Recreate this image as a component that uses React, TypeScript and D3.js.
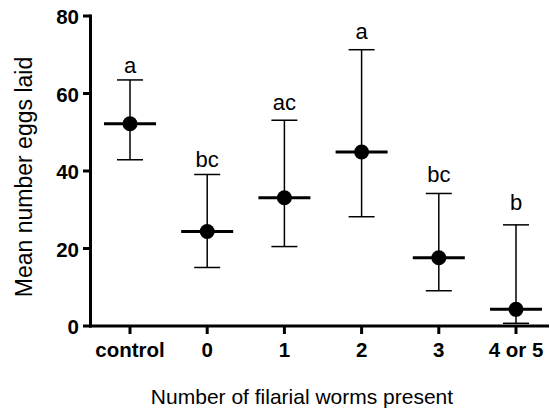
import React from "react";
import * as d3 from "d3";

const categories = ["control", "0", "1", "2", "3", "4 or 5"];
const means = [52.2, 24.4, 33.1, 44.9, 17.6, 4.3];
const upper = [63.5, 39.1, 53.1, 71.3, 34.2, 26.1];
const lower = [42.9, 15.1, 20.5, 28.2, 9.1, 0.7];
const letters = ["a", "bc", "ac", "a", "bc", "b"];
const letterPos = [65.3, 41.0, 55.7, 74.1, 37.2, 29.9];
const yTicks = [0, 20, 40, 60, 80];

const W = 550;
const H = 409;
const FONT = "'Liberation Sans', Arial, Helvetica, sans-serif";

export default function App() {
  const y = d3.scaleLinear().domain([0, 80]).range([326, 16]);
  const x = d3.scalePoint<string>().domain(categories).range([130, 516]);
  const axisX = 90.5;
  const axisY = 326;

  return (
    <svg
      width={W}
      height={H}
      style={{ position: "absolute", left: 0, top: 0, display: "block", background: "#fff" }}
      fontFamily={FONT}
    >
      {/* y axis */}
      <line x1={axisX} x2={axisX} y1={y(80) - 1.5} y2={axisY + 1.5} stroke="#000" strokeWidth={3} />
      {yTicks.map((t) => (
        <g key={t}>
          <line x1={83} x2={axisX} y1={y(t)} y2={y(t)} stroke="#000" strokeWidth={3} />
          <text x={79} y={y(t) + 8} textAnchor="end" fontSize={20.5} fontWeight="bold" fill="#000">
            {t}
          </text>
        </g>
      ))}
      {/* x axis */}
      <line x1={axisX - 1.5} x2={549} y1={axisY} y2={axisY} stroke="#000" strokeWidth={3} />
      {categories.map((c) => (
        <g key={c}>
          <line x1={x(c)} x2={x(c)} y1={axisY} y2={axisY + 8} stroke="#000" strokeWidth={3} />
          <text x={x(c)} y={357} textAnchor="middle" fontSize={20.5} fontWeight="bold" fill="#000">
            {c}
          </text>
        </g>
      ))}
      {/* error bars and means */}
      {categories.map((c, i) => {
        const cx = x(c) as number;
        return (
          <g key={"e" + c}>
            <line x1={cx} x2={cx} y1={y(upper[i])} y2={y(lower[i])} stroke="#000" strokeWidth={1.5} />
            <line x1={cx - 13} x2={cx + 13} y1={y(upper[i])} y2={y(upper[i])} stroke="#000" strokeWidth={1.5} />
            <line x1={cx - 13} x2={cx + 13} y1={y(lower[i])} y2={y(lower[i])} stroke="#000" strokeWidth={1.5} />
            <line x1={cx - 26} x2={cx + 26} y1={y(means[i])} y2={y(means[i])} stroke="#000" strokeWidth={3} />
            <circle cx={cx} cy={y(means[i])} r={7.5} fill="#000" />
            <text x={cx} y={y(letterPos[i])} textAnchor="middle" fontSize={22} fill="#000">
              {letters[i]}
            </text>
          </g>
        );
      })}
      {/* axis titles */}
      <text
        transform={`translate(32, 177) rotate(-90)`}
        textAnchor="middle"
        fontSize={23}
        fill="#000"
      >
        Mean number eggs laid
      </text>
      <text x={302} y={404} textAnchor="middle" fontSize={21} fill="#000">
        Number of filarial worms present
      </text>
    </svg>
  );
}
